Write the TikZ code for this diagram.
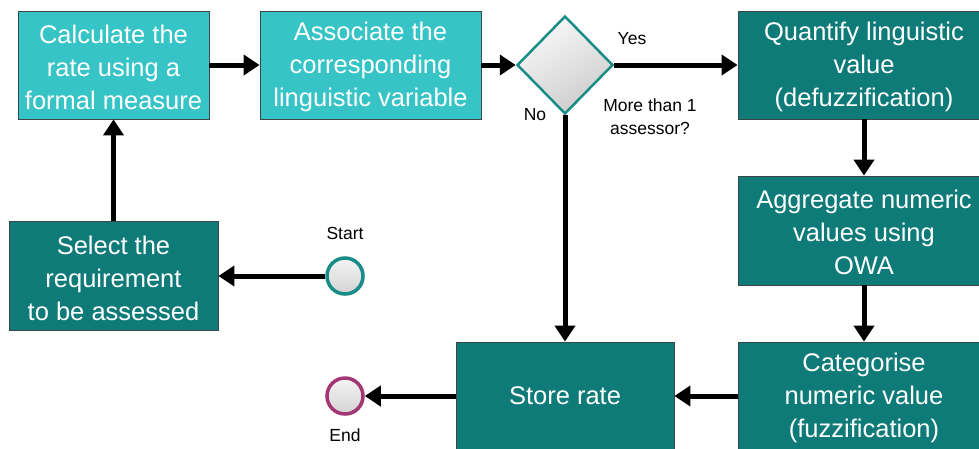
\documentclass[tikz,border=0pt]{standalone}
\usepackage{fontspec}
\setmainfont{Liberation Sans}
\usetikzlibrary{shapes.geometric,arrows.meta,shadows}
\definecolor{lteal}{RGB}{54,196,199}
\definecolor{dteal}{RGB}{15,123,121}
\definecolor{bteal}{RGB}{26,140,135}
\definecolor{endc}{RGB}{164,55,115}
\definecolor{boxline}{RGB}{60,70,70}
\begin{document}
\begin{tikzpicture}[x=1pt,y=-1pt,
  box/.style={rectangle,draw=boxline,line width=0.8pt,text=white,align=center,
    font=\fontsize{25.5}{33}\selectfont,inner sep=0pt},
  lbox/.style={box,fill=lteal},
  dbox/.style={box,fill=dteal},
  small/.style={font=\fontsize{17.5}{23}\selectfont,align=center,text=black},
  evt/.style={circle,line width=3.5pt,minimum size=36pt,inner sep=0pt,
    top color=gray!8,bottom color=gray!35,
    drop shadow={shadow xshift=1.5pt,shadow yshift=-1.5pt,opacity=0.3}},
  flow/.style={line width=5pt,-{Triangle[length=16pt,width=20pt]}}]
\useasboundingbox (0,0) rectangle (979,448);
\node[lbox,minimum width=191pt,minimum height=108pt] (calc) at (113.5,65)
  {\strut Calculate the\\rate using a\\formal measure};
\node[lbox,minimum width=221pt,minimum height=108pt] (assoc) at (370.5,65)
  {\strut Associate the\\corresponding\\linguistic variable};
\node[diamond,draw=bteal,line width=2.5pt,minimum width=96pt,minimum height=98pt,
  inner sep=0pt,shading=axis,top color=gray!5,bottom color=gray!40,shading angle=30] (dec) at (565,65) {};
\node[dbox,minimum width=252pt,minimum height=108pt] (quant) at (864,65)
  {\strut Quantify linguistic\\value\\(defuzzification)};
\node[dbox,minimum width=252pt,minimum height=109pt] (aggr) at (864,230.5)
  {\strut Aggregate numeric\\values using\\OWA};
\node[dbox,minimum width=252pt,minimum height=108pt] (categ) at (864,396)
  {\strut Categorise\\numeric value\\(fuzzification)};
\node[dbox,minimum width=218pt,minimum height=108pt] (store) at (565,396)
  {Store rate};
\node[dbox,minimum width=209pt,minimum height=109pt] (select) at (113.5,276)
  {\strut Select the\\requirement\\to be assessed};
\node[evt,draw=bteal] (start) at (345,276) {};
\node[evt,draw=endc] (end) at (345,396) {};
\node[small] (startl) at (345,233) {Start};
\node[small] (endl) at (345,435) {End};
\node[small] (yes) at (632,39) {Yes};
\node[small] (no) at (535,115) {No};
\node[small] (q) at (650,117) {More than 1\\assessor?};
\draw[flow] (calc.east) -- (assoc.west);
\draw[flow] (assoc.east) -- (dec.west);
\draw[flow] (dec.east) -- (quant.west);
\draw[flow] (dec.south) -- (store.north);
\draw[flow] (quant.south) -- (aggr.north);
\draw[flow] (aggr.south) -- (categ.north);
\draw[flow] (categ.west) -- (store.east);
\draw[flow] (store.west) -- (end.east);
\draw[flow] (start.west) -- (select.east);
\draw[flow] (select.north) -- (calc.south);
\end{tikzpicture}
\end{document}
